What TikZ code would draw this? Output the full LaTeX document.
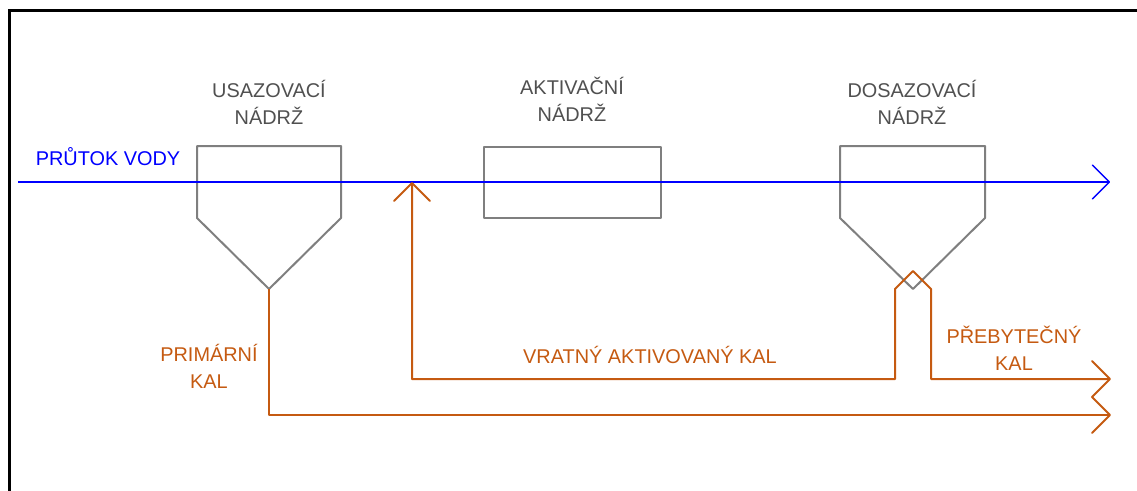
\documentclass[tikz,border=0pt]{standalone}
\usepackage{fontspec}
\setmainfont{Liberation Sans}
\usetikzlibrary{arrows.meta}
\definecolor{water}{RGB}{0,0,255}
\definecolor{sludge}{RGB}{197,90,17}
\definecolor{tankgray}{RGB}{127,127,127}
\definecolor{labelgray}{RGB}{80,80,80}
\begin{document}
\begin{tikzpicture}[x=1pt,y=-1pt,
  tank/.style={draw=tankgray, line width=2pt, line join=round},
  flow/.style={draw=water, line width=1.3pt},
  sludgeline/.style={draw=sludge, line width=2pt, line join=round},
  barb/.tip={Straight Barb[length=18pt,width=36pt,line join=round,line cap=round]},
  lbl/.style={font=\fontsize{19.9}{27}\selectfont, align=center, inner sep=0pt},
]
\useasboundingbox (0,0) rectangle (1137,490);
% outer frame (top and left edges)
\draw[line width=3pt] (9,495) -- (9,10) -- (1145,10);

% primary settling tank
\coordinate (u1) at (197,146);
\coordinate (u2) at (341,146);
\coordinate (ubot) at (269,289);
\draw[tank] (197,218) -- (u1) -- (u2) -- (341,218) -- (ubot) -- cycle;

% activation tank
\node[tank, minimum width=177pt, minimum height=71pt, inner sep=0pt] (akt) at (572.5,182.5) {};

% secondary settling tank
\coordinate (d1) at (840,146);
\coordinate (d2) at (985,146);
\coordinate (dbot) at (913,289);
\draw[tank] (840,218) -- (d1) -- (d2) -- (985,218) -- (dbot) -- cycle;

% water flow
\coordinate (win) at (18,182);
\coordinate (wout) at (1110,182);
\draw[flow, -{Straight Barb[length=17pt,width=34pt,line join=round,line cap=round]}] (win) -- (wout);

% return activated sludge and excess sludge
\coordinate (ret) at (412,182);
\coordinate (exc) at (1111,379);
\draw[sludgeline, {barb}-{barb}] (ret) -- (412,379) -- (895,379) -- (895,289)
  -- (913,271) -- (931,289) -- (931,379) -- (exc);

% primary sludge
\coordinate (prim) at (1111,415);
\draw[sludgeline, -{barb}] (ubot) -- (269,415) -- (prim);

% labels
\node[lbl, text=water] (tflow) at (108,157) {PRŮTOK VODY};
\node[lbl, text=labelgray] (tusa) at (269,102.5) {USAZOVACÍ\\NÁDRŽ};
\node[lbl, text=labelgray] (takt) at (572,99) {AKTIVAČNÍ\\NÁDRŽ};
\node[lbl, text=labelgray] (tdos) at (912,102.5) {DOSAZOVACÍ\\NÁDRŽ};
\node[lbl, text=sludge] (tprim) at (209,366.5) {PRIMÁRNÍ\\KAL};
\node[lbl, text=sludge] (tret) at (650,355) {VRATNÝ AKTIVOVANÝ KAL};
\node[lbl, text=sludge] (texc) at (1014,348.5) {PŘEBYTEČNÝ\\KAL};
\end{tikzpicture}
\end{document}
